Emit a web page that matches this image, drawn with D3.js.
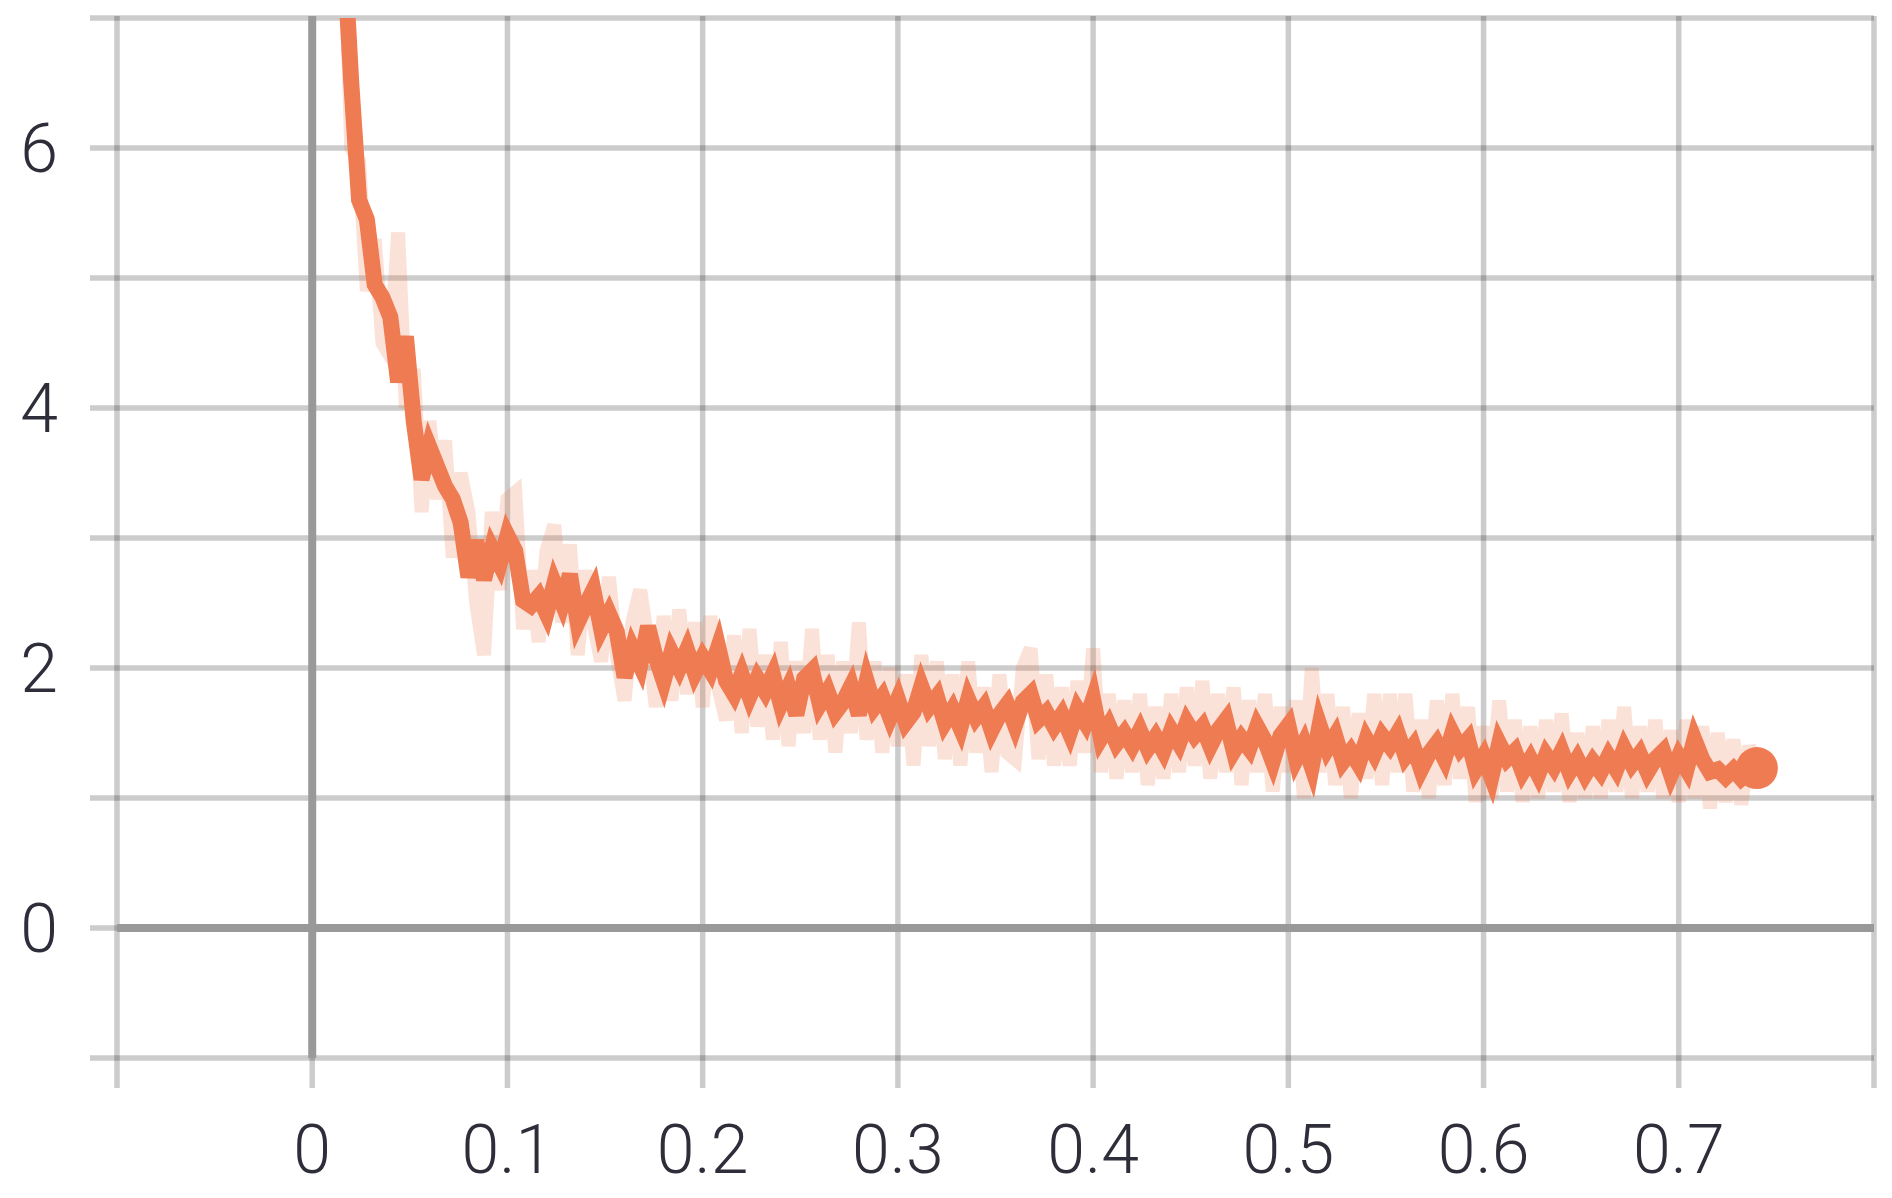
<!DOCTYPE html>
<html>
<head>
<meta charset="utf-8">
<script src="https://cdn.jsdelivr.net/npm/d3@7"></script>
<style>
  body { margin: 0; background: #fff; }
  svg { display: block; }
  .tick-label { font-family: Roboto, "Helvetica Neue", sans-serif; font-weight: 300; fill: #2e2e3a; }
</style>
</head>
<body>
<div id="chart"></div>
<script>
const steps = [
  0.016, 0.020, 0.024, 0.028, 0.032, 0.036, 0.040, 0.044, 0.048, 0.052,
  0.056, 0.060, 0.064, 0.068, 0.072, 0.076, 0.080, 0.084, 0.088, 0.092,
  0.096, 0.100, 0.104, 0.108, 0.112, 0.116, 0.120, 0.124, 0.128, 0.132,
  0.136, 0.140, 0.144, 0.148, 0.152, 0.156, 0.160, 0.164, 0.168, 0.172,
  0.176, 0.180, 0.184, 0.188, 0.192, 0.196, 0.200, 0.204, 0.208, 0.212,
  0.216, 0.220, 0.224, 0.228, 0.232, 0.236, 0.240, 0.244, 0.248, 0.252,
  0.256, 0.260, 0.264, 0.268, 0.272, 0.276, 0.280, 0.284, 0.288, 0.292,
  0.296, 0.300, 0.304, 0.308, 0.312, 0.316, 0.320, 0.324, 0.328, 0.332,
  0.336, 0.340, 0.344, 0.348, 0.352, 0.356, 0.360, 0.364, 0.368, 0.372,
  0.376, 0.380, 0.384, 0.388, 0.392, 0.396, 0.400, 0.404, 0.408, 0.412,
  0.416, 0.420, 0.424, 0.428, 0.432, 0.436, 0.440, 0.444, 0.448, 0.452,
  0.456, 0.460, 0.464, 0.468, 0.472, 0.476, 0.480, 0.484, 0.488, 0.492,
  0.496, 0.500, 0.504, 0.508, 0.512, 0.516, 0.520, 0.524, 0.528, 0.532,
  0.536, 0.540, 0.544, 0.548, 0.552, 0.556, 0.560, 0.564, 0.568, 0.572,
  0.576, 0.580, 0.584, 0.588, 0.592, 0.596, 0.600, 0.604, 0.608, 0.612,
  0.616, 0.620, 0.624, 0.628, 0.632, 0.636, 0.640, 0.644, 0.648, 0.652,
  0.656, 0.660, 0.664, 0.668, 0.672, 0.676, 0.680, 0.684, 0.688, 0.692,
  0.696, 0.700, 0.704, 0.708, 0.712, 0.716, 0.720, 0.724, 0.728, 0.732,
  0.736, 0.740
];

// smoothed loss (dark line)
const smoothed = [
  7.6, 6.5, 5.6, 5.45, 4.95, 4.85, 4.7, 4.2, 4.55, 3.9,
  3.45, 3.7, 3.55, 3.4, 3.3, 3.12, 2.7, 2.98, 2.68, 2.92,
  2.8, 3.02, 2.9, 2.52, 2.48, 2.55, 2.42, 2.65, 2.5, 2.72,
  2.35, 2.48, 2.6, 2.3, 2.42, 2.28, 1.93, 2.15, 2.02, 2.32,
  2.08, 1.9, 2.12, 2.0, 2.14, 1.96, 2.08, 1.98, 2.16, 1.9,
  1.8, 1.95, 1.78, 1.92, 1.82, 1.95, 1.72, 1.85, 1.64, 1.92,
  1.98, 1.72, 1.82, 1.66, 1.74, 1.86, 1.64, 1.9, 1.7, 1.78,
  1.62, 1.76, 1.58, 1.66, 1.86, 1.7, 1.78, 1.58, 1.68, 1.54,
  1.76, 1.62, 1.7, 1.52, 1.64, 1.72, 1.56, 1.74, 1.8, 1.6,
  1.66, 1.55, 1.64, 1.5, 1.68, 1.58, 1.76, 1.46, 1.56, 1.42,
  1.5, 1.4, 1.52, 1.38, 1.47, 1.36, 1.52, 1.42, 1.58, 1.48,
  1.55, 1.4, 1.52, 1.6, 1.36, 1.46, 1.38, 1.55, 1.44, 1.28,
  1.48, 1.56, 1.3, 1.42, 1.24, 1.56, 1.38, 1.48, 1.28, 1.36,
  1.26, 1.45, 1.34, 1.48, 1.4, 1.5, 1.32, 1.4, 1.22, 1.34,
  1.42, 1.3, 1.5, 1.38, 1.45, 1.22, 1.32, 1.16, 1.42, 1.3,
  1.36, 1.2, 1.3, 1.18, 1.33, 1.24, 1.36, 1.2, 1.3, 1.18,
  1.28, 1.2, 1.32, 1.22, 1.38, 1.26, 1.34, 1.2, 1.3, 1.36,
  1.18, 1.32, 1.22, 1.45, 1.3, 1.2, 1.22, 1.16, 1.22, 1.15,
  1.2, 1.23
];

// raw loss (light line)
const raw = [
  7.9, 6.0, 5.9, 4.9, 5.3, 4.5, 4.4, 5.35, 4.0, 4.3,
  3.2, 3.9, 3.3, 3.75, 2.85, 3.5, 3.2, 2.5, 2.1, 3.2,
  2.6, 3.3, 3.35, 2.3, 2.75, 2.2, 2.9, 3.1, 2.35, 2.95,
  2.1, 2.75, 2.35, 2.05, 2.7, 2.1, 1.75, 2.35, 2.6, 2.2,
  1.7, 2.4, 1.75, 2.45, 1.8, 2.35, 1.7, 2.4, 1.85, 1.6,
  2.25, 1.5, 2.3, 1.55, 2.1, 1.45, 2.2, 1.4, 2.05, 1.5,
  2.3, 1.45, 2.1, 1.35, 2.05, 1.5, 2.35, 1.45, 2.05, 1.35,
  2.0, 1.4, 1.95, 1.25, 2.1, 1.4, 2.05, 1.3, 1.95, 1.25,
  2.05, 1.35, 1.85, 1.2, 1.95, 1.35, 1.3, 2.0, 2.15, 1.3,
  1.95, 1.25, 1.85, 1.25, 1.9, 1.35, 2.15, 1.2, 1.8, 1.15,
  1.75, 1.2, 1.8, 1.1, 1.7, 1.15, 1.8, 1.2, 1.85, 1.25,
  1.9, 1.15, 1.8, 1.2, 1.85, 1.1, 1.75, 1.2, 1.8, 1.05,
  1.7, 1.2, 1.75, 1.0, 2.0, 1.2, 1.8, 1.1, 1.7, 1.0,
  1.65, 1.15, 1.8, 1.1, 1.8, 1.2, 1.8, 1.05, 1.6, 1.0,
  1.75, 1.1, 1.8, 1.15, 1.7, 0.97, 1.55, 1.0, 1.75, 1.05,
  1.6, 0.97, 1.55, 1.0, 1.6, 1.05, 1.65, 0.97, 1.5, 1.0,
  1.55, 1.0, 1.6, 1.05, 1.7, 1.0, 1.55, 1.05, 1.6, 1.0,
  1.52, 0.97, 1.6, 1.0, 1.55, 0.92, 1.5, 0.97, 1.45, 0.95,
  1.4, 1.2
];

const xGrid = [-0.1, 0, 0.1, 0.2, 0.3, 0.4, 0.5, 0.6, 0.7, 0.8];
const yGrid = [-1, 0, 1, 2, 3, 4, 5, 6, 7];
const xLabels = [0, 0.1, 0.2, 0.3, 0.4, 0.5, 0.6, 0.7];
const yLabels = [0, 2, 4, 6];

const width = 1892;
const height = 1198;
const orange = '#ef7b52';

function drawChart() {
  const svg = d3.select('#chart').append('svg')
    .attr('width', width)
    .attr('height', height);

  const x = d3.scaleLinear().domain([-0.1, 0.8]).range([117, 1874]);
  const y = d3.scaleLinear().domain([-1, 7]).range([1058, 18]);

  const left = x.range()[0];
  const right = x.range()[1];
  const top = y.range()[1];
  const bottom = y.range()[0];

  const grid = svg.append('g');

  // horizontal lines, they stick out a bit on the left like ticks
  grid.selectAll('.hline')
    .data(yGrid)
    .join('line')
    .attr('x1', left - 27)
    .attr('x2', right)
    .attr('y1', d => y(d))
    .attr('y2', d => y(d))
    .attr('stroke', '#000')
    .attr('stroke-opacity', 0.2)
    .attr('stroke-width', 5.5);

  grid.selectAll('.vline')
    .data(xGrid)
    .join('line')
    .attr('x1', d => x(d))
    .attr('x2', d => x(d))
    .attr('y1', top - 2)
    .attr('y2', bottom + 30)
    .attr('stroke', '#000')
    .attr('stroke-opacity', 0.2)
    .attr('stroke-width', 5.5);

  // zero lines
  grid.append('line')
    .attr('x1', left).attr('x2', right)
    .attr('y1', y(0)).attr('y2', y(0))
    .attr('stroke', '#999').attr('stroke-width', 8);
  grid.append('line')
    .attr('x1', x(0)).attr('x2', x(0))
    .attr('y1', top - 2).attr('y2', bottom)
    .attr('stroke', '#999').attr('stroke-width', 8);

  svg.append('g')
    .selectAll('text')
    .data(yLabels)
    .join('text')
    .attr('class', 'tick-label')
    .attr('x', 58)
    .attr('y', d => y(d))
    .attr('dy', '0.355em')
    .attr('text-anchor', 'end')
    .style('font-size', '68px')
    .text(d => d);

  svg.append('g')
    .selectAll('text')
    .data(xLabels)
    .join('text')
    .attr('class', 'tick-label')
    .attr('x', d => x(d))
    .attr('y', 1173)
    .attr('text-anchor', 'middle')
    .style('font-size', '68px')
    .text(d => d);

  svg.append('clipPath')
    .attr('id', 'plot-clip')
    .append('rect')
    .attr('x', left)
    .attr('y', top)
    .attr('width', right - left)
    .attr('height', bottom - top);

  const plot = svg.append('g').attr('clip-path', 'url(#plot-clip)');

  const line = d3.line()
    .x((d, i) => x(steps[i]))
    .y(d => y(d));

  plot.append('path')
    .datum(raw)
    .attr('d', line)
    .attr('fill', 'none')
    .attr('stroke', orange)
    .attr('stroke-opacity', 0.22)
    .attr('stroke-width', 14);

  plot.append('path')
    .datum(smoothed)
    .attr('d', line)
    .attr('fill', 'none')
    .attr('stroke', orange)
    .attr('stroke-width', 16);

  const last = smoothed.length - 1;
  plot.append('circle')
    .attr('cx', x(steps[last]))
    .attr('cy', y(smoothed[last]))
    .attr('r', 21)
    .attr('fill', orange);
}

drawChart();
</script>
</body>
</html>
